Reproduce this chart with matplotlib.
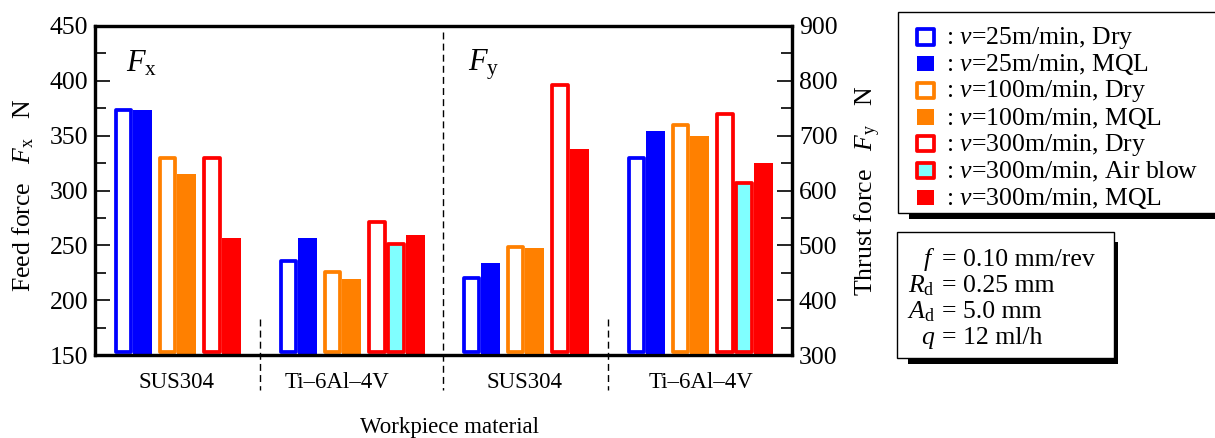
import numpy as np
import matplotlib
matplotlib.use("Agg")
import matplotlib.pyplot as plt
from matplotlib.patches import Rectangle
from matplotlib.ticker import MultipleLocator
import matplotlib.transforms as mtransforms

plt.rcParams['font.family'] = ['Liberation Serif', 'DejaVu Serif']
plt.rcParams['mathtext.fontset'] = 'custom'
plt.rcParams['mathtext.rm'] = 'Liberation Serif'
plt.rcParams['mathtext.it'] = 'Liberation Serif:italic'
plt.rcParams['mathtext.bf'] = 'Liberation Serif:bold'

# ---------------- data ----------------
materials = ["SUS304", "Ti\u20136Al\u20134V"]
series_labels = ["$v$=25m/min, Dry", "$v$=25m/min, MQL",
                 "$v$=100m/min, Dry", "$v$=100m/min, MQL",
                 "$v$=300m/min, Dry", "$v$=300m/min, Air blow",
                 "$v$=300m/min, MQL"]
fx_sus304 = [375, 373, 331, 315, 331, None, 257]
fx_ti64 = [237, 257, 227, 219, 273, 253, 259]
fy_sus304 = [443, 467, 501, 495, 796, None, 675]
fy_ti64 = [663, 708, 723, 699, 743, 617, 650]
fx_ticks = [150, 200, 250, 300, 350, 400, 450]
fy_ticks = [300, 400, 500, 600, 700, 800, 900]
info_names = ["$f$", "$R_{\\mathrm{d}}$", "$A_{\\mathrm{d}}$", "$q$"]
info_values = ["= 0.10 mm/rev", "= 0.25 mm", "= 5.0 mm", "= 12 ml/h"]

# ---------------- styles ----------------
BLUE = (0, 0, 1)
ORANGE = (1, 0.5, 0)
RED = (1, 0, 0)
CYAN = (0.5, 1, 1)
edge_colors = [BLUE, BLUE, ORANGE, ORANGE, RED, RED, RED]
fill_colors = ['white', BLUE, 'white', ORANGE, 'white', CYAN, RED]
outlined = [True, False, True, False, True, True, False]
cluster_of = [0, 0, 1, 1, 2, 2, 2]

W_PX, H_PX = 1215, 438
fig = plt.figure(figsize=(W_PX / 100, H_PX / 100), dpi=100)

AX_L, AX_R, AX_T, AX_B = 95, 792, 26, 355
ax = fig.add_axes([AX_L / W_PX, 1 - AX_B / H_PX, (AX_R - AX_L) / W_PX, (AX_B - AX_T) / H_PX])
ax2 = ax.twinx()
ax_w = AX_R - AX_L
ax_h = AX_B - AX_T

ax.set_xlim(0, ax_w)
ax.set_ylim(fx_ticks[0], fx_ticks[-1])
ax2.set_ylim(fy_ticks[0], fy_ticks[-1])

LW_PT = 2.7
LW_PX = LW_PT * 100 / 72
BAR_W = 19
CLUSTER_PITCH = 44.3
group_starts = [19, 184, 367, 532]


def draw_group(axis, values, start, ymin, ymax):
    ppu = ax_h / (ymax - ymin)
    counts = {}
    for i, v in enumerate(values):
        if v is None:
            continue
        c = cluster_of[i]
        k = counts.get(c, 0)
        counts[c] = k + 1
        x0 = start + c * CLUSTER_PITCH + k * BAR_W
        if outlined[i]:
            ins = LW_PX / 2
            y_bot = ymin + (1.5 + LW_PX / 2) / ppu
            y_top = v - ins / ppu
            axis.add_patch(Rectangle((x0 + ins, y_bot), BAR_W - 2 * ins, y_top - y_bot,
                                     facecolor=fill_colors[i], edgecolor=edge_colors[i],
                                     linewidth=LW_PT, joinstyle='round', zorder=2))
        else:
            axis.add_patch(Rectangle((x0, ymin), BAR_W, v - ymin,
                                     facecolor=fill_colors[i], edgecolor='none',
                                     linewidth=0, zorder=1.5))


draw_group(ax, fx_sus304, group_starts[0], fx_ticks[0], fx_ticks[-1])
draw_group(ax, fx_ti64, group_starts[1], fx_ticks[0], fx_ticks[-1])
draw_group(ax2, fy_sus304, group_starts[2], fy_ticks[0], fy_ticks[-1])
draw_group(ax2, fy_ti64, group_starts[3], fy_ticks[0], fy_ticks[-1])

# spines & ticks
for a in (ax, ax2):
    for s in a.spines.values():
        s.set_linewidth(2.3)
        s.set_zorder(5)
    a.tick_params(axis='x', bottom=False, top=False, labelbottom=False)

ax.set_yticks(fx_ticks)
ax.yaxis.set_minor_locator(MultipleLocator(25))
ax.tick_params(axis='y', which='both', direction='in', left=True, right=False,
               labelsize=18.5, pad=5)
ax.tick_params(axis='y', which='major', length=11, width=1.2)
ax.tick_params(axis='y', which='minor', length=8, width=1.2)

ax2.set_yticks(fy_ticks)
ax2.yaxis.set_minor_locator(MultipleLocator(50))
ax2.tick_params(axis='y', which='both', direction='in', left=False, right=True,
                labelsize=18.5, pad=5)
ax2.tick_params(axis='y', which='major', length=11, width=1.2)
ax2.tick_params(axis='y', which='minor', length=8, width=1.2)

# dashed separators
trans = mtransforms.blended_transform_factory(ax.transData, ax.transAxes)
def frac(ypx):
    return (AX_B - ypx) / ax_h
ax.plot([348.5, 348.5], [frac(32), frac(390)], transform=trans, color='black',
        lw=1.0, ls=(0, (5, 3)), clip_on=False, zorder=6)
for xs in (165, 513):
    ax.plot([xs, xs], [frac(319), frac(390)], transform=trans, color='black',
            lw=1.0, ls=(0, (5, 3)), clip_on=False, zorder=6)

# category labels
for xc, name in zip([82, 242, 430, 606], materials * 2):
    ax.text(xc, frac(383), name, transform=trans, ha='center', va='center', fontsize=16.5)

def fx(px):
    return px / W_PX
def fy(py):
    return 1 - py / H_PX

fig.text(fx(450), fy(427), "Workpiece material", ha='center', va='center', fontsize=16.5)

# panel labels
fig.text(fx(126), fy(71), "$F_{\\mathrm{x}}$", ha='left', va='baseline', fontsize=22)
fig.text(fx(468), fy(71), "$F_{\\mathrm{y}}$", ha='left', va='baseline', fontsize=22)

# y labels
fig.text(fx(23), fy(195), "Feed force   $F_{\\mathrm{x}}$   N", rotation=90,
         ha='center', va='center', fontsize=18.5)
fig.text(fx(868), fy(191), "Thrust force   $F_{\\mathrm{y}}$   N", rotation=90,
         ha='center', va='center', fontsize=18.5)


def pxrect(x0, y0, x1, y1, **kw):
    return Rectangle((fx(x0), fy(y1)), (x1 - x0) / W_PX, (y1 - y0) / H_PX,
                     transform=fig.transFigure, **kw)


def shadow_box(x0, y0, x1, y1):
    fig.patches.append(pxrect(x0 + 11, y1, x1 + 4, y1 + 6, facecolor='black',
                              edgecolor='none'))
    fig.patches.append(pxrect(x1, y0 + 10, x1 + 4, y1 + 6, facecolor='black',
                              edgecolor='none'))
    fig.patches.append(pxrect(x0, y0, x1, y1, facecolor='white', edgecolor='black',
                              linewidth=1.0))


# legend box
shadow_box(898, 12, 1222, 213)
for i, lab in enumerate(series_labels):
    yc = 37 + i * 26.7
    ins = LW_PX / 2
    fig.patches.append(pxrect(915 + ins, yc - 9.5 + ins, 936 - ins, yc + 9.5 - ins,
                              facecolor=fill_colors[i], edgecolor=edge_colors[i],
                              linewidth=LW_PT if outlined[i] else 0.0,
                              joinstyle='round'))
    fig.text(fx(946), fy(yc + 1), ": " + lab, ha='left', va='center', fontsize=18.5)

# info box
shadow_box(897, 232, 1114, 358)
for i, (nm, val) in enumerate(zip(info_names, info_values)):
    yb = 266 + i * 26
    fig.text(fx(935), fy(yb), nm, ha='right', va='baseline', fontsize=18.5)
    fig.text(fx(942), fy(yb), val, ha='left', va='baseline', fontsize=18.5)

fig.savefig("out.png", dpi=100)
